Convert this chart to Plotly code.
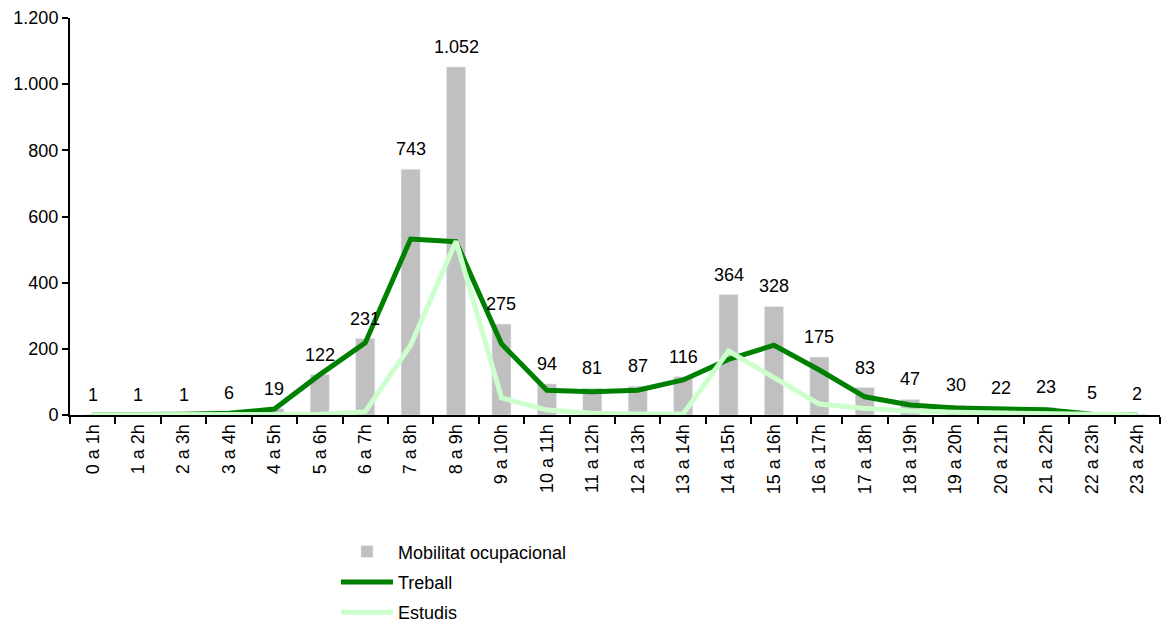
import plotly.graph_objects as go

hores = ['%d a %dh' % (i, i + 1) for i in range(24)]
mobilitat = [1, 1, 1, 6, 19, 122, 231, 743, 1052, 275, 94, 81, 87, 116,
             364, 328, 175, 83, 47, 30, 22, 23, 5, 2]
treball = [1, 1, 2, 5, 18, 122, 218, 532, 524, 215, 75, 70, 75, 106,
           168, 211, 136, 55, 30, 21, 17, 16, 2, 1]
estudis = [1, 1, 1, 1, 1, 2, 10, 211, 525, 52, 15, 5, 3, 3,
           193, 115, 33, 20, 12, 8, 5, 4, 2, 1]

fig = go.Figure()
fig.add_trace(go.Bar(x=hores, y=mobilitat, name='Mobilitat ocupacional',
                     marker_color='#C0C0C0', legendgroup='a'))
fig.add_trace(go.Scatter(x=hores, y=treball, name='Treball', mode='lines',
                         line=dict(color='#008000', width=5), legendgroup='b'))
fig.add_trace(go.Scatter(x=hores, y=estudis, name='Estudis', mode='lines',
                         line=dict(color='#CCFFCC', width=5), legendgroup='c'))

# etiquetes de les barres
for h, v in zip(hores, mobilitat):
    fig.add_annotation(x=h, y=v, text=f'{v:,}'.replace(',', '.'),
                       showarrow=False, yanchor='bottom', yshift=8,
                       font=dict(size=18, color='black'))

fig.update_layout(
    width=1166, height=626,
    separators=',.',
    plot_bgcolor='white', paper_bgcolor='white',
    font=dict(family='Liberation Sans, Arial', size=18, color='black'),
    margin=dict(l=70, r=6, t=18, b=211, autoexpand=False),
    bargap=0.58,
    showlegend=True,
    legend=dict(x=0.244, y=-0.298, xanchor='left', yanchor='top',
                orientation='v', traceorder='grouped', itemwidth=52,
                font=dict(size=18), tracegroupgap=4),
    xaxis=dict(tickangle=-90, showline=True, linecolor='black', linewidth=2,
               ticks='outside', tickson='boundaries', ticklen=7,
               tickcolor='black', tickwidth=2, showgrid=False),
    yaxis=dict(range=[0, 1200], dtick=200, tickformat=',d', showline=True,
               linecolor='black', linewidth=2, ticks='outside', ticklen=6,
               tickcolor='black', tickwidth=2, showgrid=False, zeroline=False),
)

fig.write_html("out.html", config={'displayModeBar': False},
               post_script="document.body.style.margin='0';")
